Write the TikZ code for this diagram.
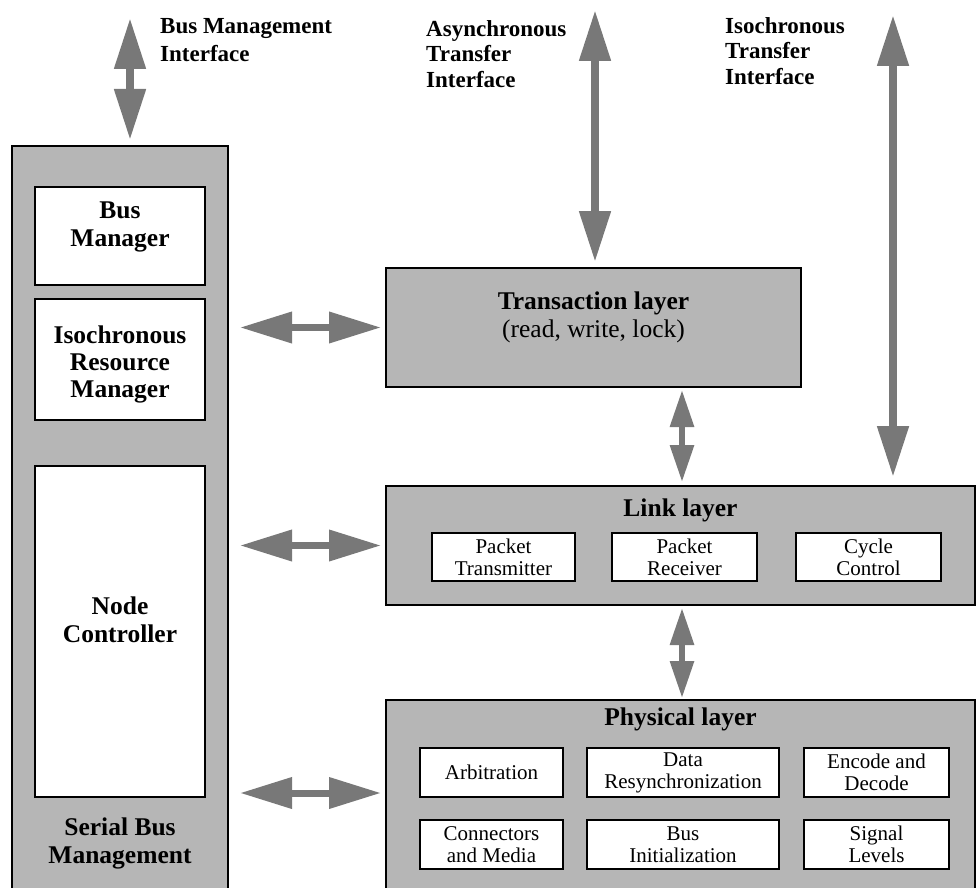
\documentclass[tikz,border=0pt]{standalone}
\usepackage{fontspec}
\setmainfont{Liberation Serif}
\usetikzlibrary{arrows.meta,calc}
\definecolor{boxgray}{RGB}{182,182,182}
\definecolor{arrowgray}{RGB}{120,120,120}
\begin{document}
\begin{tikzpicture}[x=1pt,y=-1pt,
  layer/.style={draw=black, line width=1.8pt, fill=boxgray, inner sep=0pt, outer sep=0pt},
  wbox/.style={draw=black, line width=1.8pt, fill=white, inner sep=0pt, outer sep=0pt, align=center},
  sub/.style={wbox, line width=1.5pt, font=\fontsize{21}{22}\selectfont},
  title/.style={font=\fontsize{25.5}{28}\selectfont\bfseries, align=center, inner sep=0pt},
  plain/.style={font=\fontsize{25.5}{28}\selectfont, align=center, inner sep=0pt},
  toplabel/.style={font=\fontsize{23}{25.5}\selectfont\bfseries, align=left, inner sep=0pt, anchor=north west},
  vbigarrow/.style={draw=arrowgray, line width=8pt, {Triangle[length=51pt,width=30pt]}-{Triangle[length=51pt,width=30pt]}},
  hbigarrow/.style={draw=arrowgray, line width=7pt, {Triangle[length=52pt,width=30pt]}-{Triangle[length=52pt,width=30pt]}},
  smallarrow/.style={draw=arrowgray, line width=6pt, {Triangle[length=37pt,width=23pt]}-{Triangle[length=37pt,width=23pt]}},
]
\useasboundingbox (0,0) rectangle (977,888);

% Serial bus management column
\node[layer, minimum width=216pt, minimum height=760pt] (sbm) at (120,526) {};
\node[wbox, minimum width=170pt, minimum height=98pt] (bm) at (120,236) {};
\node[title] (bmt) at (120,227) {Bus\\Manager};
\node[wbox, minimum width=170pt, minimum height=121pt] (irm) at (120,359.5) {};
\node[title, font=\fontsize{25.5}{27}\selectfont\bfseries] (irmt) at (120,364) {Isochronous\\Resource\\Manager};
\node[wbox, minimum width=170pt, minimum height=331pt] (nc) at (120,631.5) {};
\node[title] (nct) at (120,620) {Node\\Controller};
\node[title] (sbmt) at (120,843) {Serial Bus\\Management};

% Transaction layer
\node[layer, minimum width=415pt, minimum height=119pt] (trans) at (593.5,327.5) {};
\node[plain] (transt) at (593.5,317) {{\bfseries Transaction layer}\\(read, write, lock)};

% Link layer
\node[layer, minimum width=589pt, minimum height=119pt] (link) at (680.5,545.5) {};
\node[title] (linkt) at (680.5,510) {Link layer};
\node[sub, minimum width=143pt, minimum height=48pt] (pt) at (503.5,557) {Packet\\Transmitter};
\node[sub, minimum width=145pt, minimum height=48pt] (pr) at (684.5,557) {Packet\\Receiver};
\node[sub, minimum width=145pt, minimum height=48pt] (cc) at (868.5,557) {Cycle\\Control};

% Physical layer
\node[layer, minimum width=589pt, minimum height=200pt] (phys) at (680.5,800) {};
\node[title] (physt) at (680.5,719) {Physical layer};
\node[sub, minimum width=143pt, minimum height=49pt] (arb) at (491.5,772.5) {Arbitration};
\node[sub, minimum width=192pt, minimum height=49pt] (drs) at (683,772.5) {Data\\Resynchronization};
\node[sub, minimum width=145pt, minimum height=49pt] (ed) at (876.5,772.5) {Encode and\\Decode};
\node[sub, minimum width=143pt, minimum height=49pt] (cm) at (491.5,844.5) {Connectors\\and Media};
\node[sub, minimum width=192pt, minimum height=49pt] (bi) at (683,844.5) {Bus\\Initialization};
\node[sub, minimum width=145pt, minimum height=49pt] (sl) at (876.5,844.5) {Signal\\Levels};

% Top labels
\node[toplabel, font=\fontsize{23}{28}\selectfont\bfseries] (bmil) at (160,18) {Bus Management\\Interface};
\node[toplabel] (atil) at (426,20) {Asynchronous\\Transfer\\Interface};
\node[toplabel] (itil) at (725,17) {Isochronous\\Transfer\\Interface};

% Interface arrows
\coordinate (bmi) at (130,18);
\coordinate (ati) at (595,10);
\coordinate (iti) at (893,15);
\draw[vbigarrow, shorten >=6pt] (bmi) -- (bmi |- sbm.north);
\draw[vbigarrow, shorten >=6pt] (ati) -- (ati |- trans.north);
\draw[vbigarrow, shorten >=9pt] (iti) -- (iti |- link.north);

% Between layers
\coordinate (lx) at (682,0);
\draw[smallarrow, shorten <=3pt, shorten >=4pt] (lx |- trans.south) -- (lx |- link.north);
\draw[smallarrow, shorten <=3pt, shorten >=2pt] (lx |- link.south) -- (lx |- phys.north);

% Management to layers
\coordinate (py) at (0,793);
\draw[hbigarrow, shorten <=12pt, shorten >=5pt] (sbm.east |- trans.west) -- (trans.west);
\draw[hbigarrow, shorten <=12pt, shorten >=5pt] (sbm.east |- link.west) -- (link.west);
\draw[hbigarrow, shorten <=12pt, shorten >=5pt] (sbm.east |- py) -- (phys.west |- py);
\end{tikzpicture}
\end{document}
